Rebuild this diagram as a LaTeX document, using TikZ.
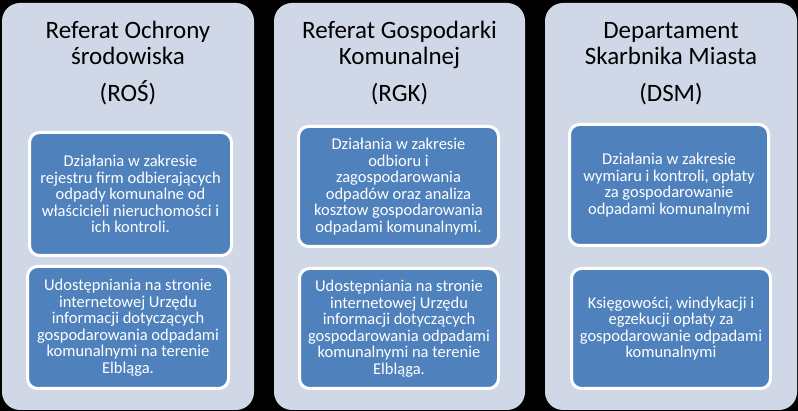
\documentclass[tikz,border=0pt]{standalone}
\usepackage{fontspec}
\setmainfont{Carlito}
\definecolor{panelfill}{HTML}{D0D8E8}
\definecolor{boxfill}{HTML}{4F81BD}
\tikzset{
  panel/.style={fill=panelfill, draw=none, rounded corners=18pt, minimum width=#1, minimum height=407pt, inner sep=0pt},
  panel/.default=251pt,
  title/.style={align=center, font=\fontsize{25}{26}\selectfont, text=black, inner sep=0pt},
  abbr/.style={font=\fontsize{25}{26}\selectfont, text=black, inner sep=0pt},
  infobox/.style={fill=boxfill, draw=white, line width=3pt, rounded corners=10pt, align=center,
     text=white, font=\fontsize{16.5}{16.5}\selectfont, inner sep=0pt},
}
\begin{document}
\begin{tikzpicture}[x=1pt,y=-1pt]
\useasboundingbox (0,0) rectangle (798,411);
\fill[black] (0,0) rectangle (798,411);

% panels
\node[panel=252pt] (p1) at (128,206.5) {};
\node[panel=251pt] (p2) at (399.5,206.5) {};
\node[panel=252pt] (p3) at (671,206.5) {};

% titles
\node[title, anchor=base] (t1) at (128,65) {Referat Ochrony\\środowiska};
\node[title, anchor=base] (t2) at (399.5,65) {Referat Gospodarki\\Komunalnej};
\node[title, anchor=base] (t3) at (671,65) {Departament\\Skarbnika Miasta};
\node[abbr, anchor=base] (a1) at (128,102) {(ROŚ)};
\node[abbr, anchor=base] (a2) at (399.5,102) {(RGK)};
\node[abbr, anchor=base] (a3) at (671,102) {(DSM)};

% boxes
\node[infobox, minimum width=202pt, minimum height=123pt] (b11) at (130.5,194)
  {Działania w zakresie\\rejestru firm odbierających\\odpady komunalne od\\właścicieli nieruchomości i\\ich kontroli.};
\node[infobox, minimum width=201pt, minimum height=122pt] (b12) at (128,327.5)
  {Udostępniania na stronie\\internetowej Urzędu\hspace*{30pt}\\informacji dotyczących\\gospodarowania odpadami\\komunalnymi na terenie\\Elbląga.};
\node[infobox, minimum width=200pt, minimum height=120pt] (b21) at (398.5,186.5)
  {Działania w zakresie\\odbioru i\\zagospodarowania\\odpadów oraz analiza\\kosztow gospodarowania\\odpadami komunalnymi.};
\node[infobox, minimum width=199pt, minimum height=120pt] (b22) at (399,328.5)
  {Udostępniania na stronie\\internetowej Urzędu\hspace*{30pt}\\informacji dotyczących\\gospodarowania odpadami\\komunalnymi na terenie\\Elbląga.};
\node[infobox, minimum width=199pt, minimum height=121pt] (b31) at (669,185)
  {Działania w zakresie\\wymiaru i kontroli, opłaty\\za gospodarowanie\\odpadami komunalnymi};
\node[infobox, minimum width=199pt, minimum height=120pt] (b32) at (671,328.5)
  {Księgowości, windykacji i\\egzekucji opłaty za\\gospodarowanie odpadami\\komunalnymi};
\end{tikzpicture}
\end{document}
